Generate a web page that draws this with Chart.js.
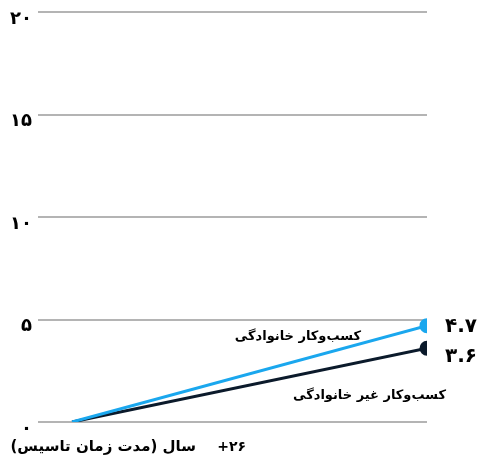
<!DOCTYPE html>
<html lang="fa">
<head>
<meta charset="utf-8">
<title>کسب‌وکار خانوادگی</title>
<script src="https://cdn.jsdelivr.net/npm/chart.js@4/dist/chart.umd.min.js"></script>
<style>
  html, body { margin: 0; padding: 0; background: #fff; }
  #wrap { width: 477px; height: 461px; }
</style>
</head>
<body>
<div id="wrap"><canvas id="chart"></canvas></div>
<script>
// years since founding: start point and the +26 mark
const stages = [0, 1];
const seriesNames = ['کسب‌وکار خانوادگی', 'کسب‌وکار غیر خانوادگی'];
const familyValues = [0, 4.7];
const nonFamilyValues = [0, 3.6];
const yTicks = [0, 5, 10, 15, 20];
const xCaption = 'سال (مدت زمان تاسیس)';
const xCaptionValue = '+۲۶';

const colors = ['#1aa7ee', '#0b1a2b'];
const FONT = '"DejaVu Sans", sans-serif';

function toFa(n) {
    return String(n).replace(/\d/g, d => '۰۱۲۳۴۵۶۷۸۹'[d]);
}

function points(values) {
    return stages.map((x, i) => ({ x, y: values[i] }));
}

// value at the end of each line and the series name beside it
const labelsPlugin = {
    id: 'lineLabels',
    afterDatasetsDraw(chart) {
        const ctx = chart.ctx;
        ctx.save();
        ctx.fillStyle = '#000';
        ctx.textBaseline = 'middle';

        chart.data.datasets.forEach((ds, i) => {
            const meta = chart.getDatasetMeta(i);
            const last = meta.data[meta.data.length - 1];
            ctx.font = 'bold 20px ' + FONT;
            ctx.textAlign = 'left';
            ctx.direction = 'ltr';
            ctx.fillText(toFa(ds.data[ds.data.length - 1].y), last.x + 18, last.y + (i === 0 ? 1 : 9));
        });

        const a = chart.getDatasetMeta(0).data[1];
        const b = chart.getDatasetMeta(1).data[1];
        ctx.font = 'bold 13px ' + FONT;
        ctx.textAlign = 'right';
        ctx.direction = 'rtl';
        ctx.fillText(seriesNames[0], a.x - 66, a.y + 11);
        ctx.fillText(seriesNames[1], b.x + 19, b.y + 47);

        // axis caption under the plot
        const area = chart.chartArea;
        ctx.font = 'bold 15px ' + FONT;
        ctx.textBaseline = 'alphabetic';
        ctx.fillText(xCaption, 196, area.bottom + 29);
        ctx.direction = 'ltr';
        ctx.font = 'bold 14px ' + FONT;
        ctx.fillText(xCaptionValue, 246, area.bottom + 29);
        ctx.restore();
    }
};

new Chart(document.getElementById('chart'), {
    type: 'line',
    data: {
        datasets: [
            {
                label: seriesNames[0],
                data: points(familyValues),
                borderColor: colors[0],
                backgroundColor: colors[0],
                borderWidth: 3,
                pointRadius: [0, 6],
                pointHoverRadius: [0, 6]
            },
            {
                label: seriesNames[1],
                data: points(nonFamilyValues),
                borderColor: colors[1],
                backgroundColor: colors[1],
                borderWidth: 3,
                pointRadius: [0, 6],
                pointHoverRadius: [0, 6]
            }
        ]
    },
    options: {
        responsive: true,
        maintainAspectRatio: false,
        animation: false,
        layout: { padding: { top: 0, right: 50, bottom: 39, left: 0 } },
        plugins: {
            legend: { display: false },
            tooltip: { enabled: false }
        },
        scales: {
            x: {
                type: 'linear',
                min: -0.096,
                max: 1,
                display: false
            },
            y: {
                min: yTicks[0],
                max: yTicks[yTicks.length - 1],
                afterBuildTicks(scale) {
                    scale.ticks = yTicks.map(v => ({ value: v }));
                },
                afterFit(scale) {
                    scale.width = 38;
                    scale.paddingTop = 12;
                },
                border: { display: false },
                grid: {
                    color: '#b4b4b4',
                    lineWidth: 2,
                    drawTicks: false
                },
                ticks: {
                    padding: 6,
                    labelOffset: 7,
                    color: '#000',
                    font: { family: FONT, size: 18, weight: 'bold' },
                    callback: v => toFa(v)
                }
            }
        }
    },
    plugins: [labelsPlugin]
});
</script>
</body>
</html>
